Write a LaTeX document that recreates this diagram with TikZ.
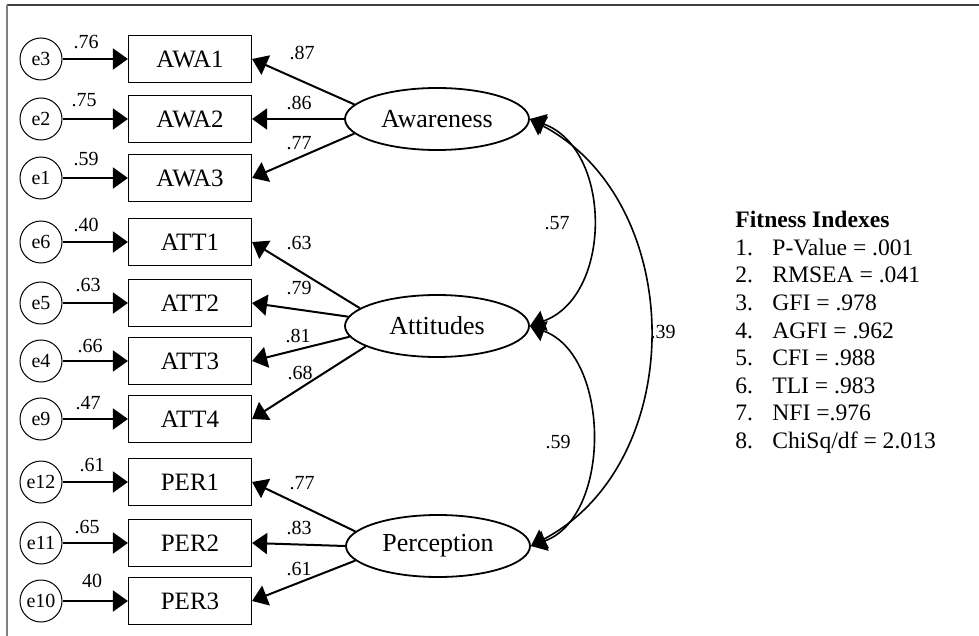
\documentclass[tikz,border=0pt]{standalone}
\usepackage{fontspec}
\setmainfont{Liberation Serif}
\usetikzlibrary{shapes.geometric, arrows.meta}

\begin{document}
\begin{tikzpicture}[x=0.5pt, y=-0.5pt,
	obs/.style={draw, line width=0.6pt, minimum width=61.5pt, minimum height=23.5pt, inner sep=0pt, font=\fontsize{12.5}{14}\selectfont},
	err/.style={draw, circle, line width=0.5pt, minimum size=21pt, inner sep=0pt, font=\fontsize{10}{12}\selectfont},
	lat/.style={draw, ellipse, line width=0.9pt, minimum width=92pt, minimum height=31pt, inner sep=0pt, font=\fontsize{13}{15}\selectfont},
	arr/.style={line width=1pt, -{Triangle[length=7.5pt, width=10.5pt]}},
	cov/.style={line width=0.8pt, {Triangle[length=7.5pt, width=10.5pt]}-{Triangle[length=7.5pt, width=10.5pt]}},
	wt/.style={font=\fontsize{10}{12}\selectfont, inner sep=0pt}
	]
	\useasboundingbox (0,0) rectangle (979,636);
	
	%frame
	\draw[black!75, line width=1pt] (7,5)--(979,5);
	\draw[black!50, line width=1pt] (7,5)--(7,636);
	
	%latent variables
	\node[lat] (aw)  at (437,119) {Awareness};
	\node[lat] (att) at (437,326) {Attitudes};
	\node[lat] (per) at (438,546) {Perception};
	
	%observed variables
	\node[obs] (awa1) at (190,59)  {AWA1};
	\node[obs] (awa2) at (190,119) {AWA2};
	\node[obs] (awa3) at (190,178) {AWA3};
	%
	\node[obs] (att1) at (190,242) {ATT1};
	\node[obs] (att2) at (190,303) {ATT2};
	\node[obs] (att3) at (190,361) {ATT3};
	\node[obs] (att4) at (190,419) {ATT4};
	%
	\node[obs] (per1) at (190,482) {PER1};
	\node[obs] (per2) at (190,543) {PER2};
	\node[obs] (per3) at (190,601) {PER3};
	
	%errors
	\node[err] (e3)  at (41,59)  {e3};
	\node[err] (e2)  at (41,119) {e2};
	\node[err] (e1)  at (41,178) {e1};
	\node[err] (e6)  at (41,242) {e6};
	\node[err] (e5)  at (41,303) {e5};
	\node[err] (e4)  at (41,361) {e4};
	\node[err] (e9)  at (41,419) {e9};
	\node[err] (e12) at (41,482) {e12};
	\node[err] (e11) at (41,543) {e11};
	\node[err] (e10) at (41,601) {e10};
	
	%error arrows
	\draw[arr] (e3)--(awa1);
	\draw[arr] (e2)--(awa2);
	\draw[arr] (e1)--(awa3);
	\draw[arr] (e6)--(att1);
	\draw[arr] (e5)--(att2);
	\draw[arr] (e4)--(att3);
	\draw[arr] (e9)--(att4);
	\draw[arr] (e12)--(per1);
	\draw[arr] (e11)--(per2);
	\draw[arr] (e10)--(per3);
	
	%loadings
	\draw[arr] (aw.170)--(awa1.east);
	\draw[arr] (aw.180)--(awa2.east);
	\draw[arr] (aw.190)--(awa3.east);
	\draw[arr] (att.167)--(att1.east);
	\draw[arr] (att.174)--(att2.east);
	\draw[arr] (att.187)--(att3.east);
	\draw[arr] (att.196)--(att4.east);
	\draw[arr] (per.170)--(per1.east);
	\draw[arr] (per.180)--(per2.east);
	\draw[arr] (per.190)--(per3.east);
	
	%covariances
	\draw[cov] (aw.east)  to[out=-20, in=20, looseness=1.09] (att.east);
	\draw[cov] (att.east) to[out=-20, in=20, looseness=1.0] (per.east);
	\draw[cov] (aw.east)  to[out=-28, in=28, looseness=1.07] (per.east);
	
	%error labels
	\node[wt] (w3)  at (86,42)  {.76};
	\node[wt] (w2)  at (84,100) {.75};
	\node[wt] (w1)  at (86,159) {.59};
	\node[wt] (w6)  at (86,225) {.40};
	\node[wt] (w5)  at (88,285) {.63};
	\node[wt] (w4)  at (90,346) {.66};
	\node[wt] (w9)  at (88,403) {.47};
	\node[wt] (w12) at (92,465) {.61};
	\node[wt] (w11) at (87,527) {.65};
	\node[wt] (w10) at (92,581) {40};
	
	%loading labels
	\node[wt] (l1)  at (302,53)  {.87};
	\node[wt] (l2)  at (299,103) {.86};
	\node[wt] (l3)  at (299,143) {.77};
	\node[wt] (l4)  at (299,243) {.63};
	\node[wt] (l5)  at (299,288) {.79};
	\node[wt] (l6)  at (298,336) {.81};
	\node[wt] (l7)  at (300,373) {.68};
	\node[wt] (l8)  at (302,483) {.77};
	\node[wt] (l9)  at (299,528) {.83};
	\node[wt] (l10) at (299,569) {.61};
	
	%covariance labels
	\node[wt] (c1) at (557,223) {.57};
	\node[wt] (c2) at (558,442) {.59};
	\node[wt] (c3) at (663,332) {.39};
	
	%fitness indexes
	\node[anchor=north west, inner sep=0pt, align=left, font=\fontsize{11.8}{13.8}\selectfont] (fit) at (735,211)
		{\textbf{Fitness Indexes}\\
		\makebox[18.5pt][l]{1.}P-Value = .001\\
		\makebox[18.5pt][l]{2.}RMSEA = .041\\
		\makebox[18.5pt][l]{3.}GFI = .978\\
		\makebox[18.5pt][l]{4.}AGFI = .962\\
		\makebox[18.5pt][l]{5.}CFI = .988\\
		\makebox[18.5pt][l]{6.}TLI = .983\\
		\makebox[18.5pt][l]{7.}NFI =.976\\
		\makebox[18.5pt][l]{8.}ChiSq/df = 2.013};
\end{tikzpicture}
\end{document}
